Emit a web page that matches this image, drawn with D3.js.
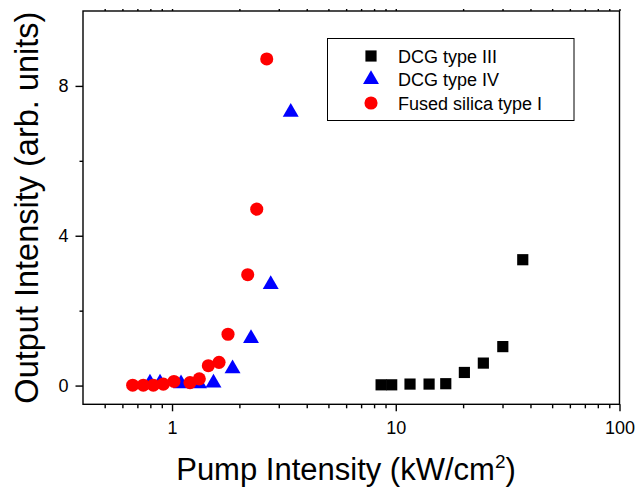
<!DOCTYPE html>
<html>
<head>
<meta charset="utf-8">
<script src="https://cdn.jsdelivr.net/npm/d3@7"></script>
<style>
    body { margin: 0; background: #fff; }
    text { font-family: "Liberation Sans", Arial, sans-serif; fill: #000; }
</style>
</head>
<body>
<script>
// Fused silica type I (red circles)
const silicaX = [0.667, 0.744, 0.825, 0.914, 1.02, 1.203, 1.324, 1.453, 1.622, 1.779, 2.179, 2.391, 2.65];
const silicaY = [0.01, 0.01, 0.01, 0.04, 0.11, 0.08, 0.18, 0.53, 0.62, 1.37, 2.96, 4.71, 8.72];

// DCG type IV (blue triangles)
const dcg4X = [0.797, 0.884, 1.097, 1.32, 1.532, 1.864, 2.254, 2.761, 3.393];
const dcg4Y = [0.07, 0.07, 0.05, 0.05, 0.07, 0.45, 1.26, 2.70, 7.30];

// DCG type III (black squares)
const dcg3X = [8.60, 9.59, 11.58, 14.09, 16.73, 20.26, 24.63, 30.09, 36.95];
const dcg3Y = [0.02, 0.02, 0.04, 0.04, 0.05, 0.35, 0.60, 1.04, 3.36];

const xMajor = [1, 10, 100];
const xMinor = [0.5, 0.6, 0.7, 0.8, 0.9, 2, 3, 4, 5, 6, 7, 8, 9, 20, 30, 40, 50, 60, 70, 80, 90];
const yMajor = [0, 4, 8];
const yMinor = [2, 6];

const legendLabels = ['DCG type III', 'DCG type IV', 'Fused silica type I'];

var width = 639,
    height = 488,
    plotLeft = 83,
    plotRight = 619.5,
    plotTop = 11,
    plotBottom = 404.3;

var xScale = d3.scaleLog().domain([0.4, 100]).range([plotLeft, plotRight]);
var yScale = d3.scaleLinear().domain([-0.5, 10]).range([plotBottom, plotTop]);

var svg = d3.select('body').append('svg')
    .attr('width', width)
    .attr('height', height);

// frame
svg.append('rect')
    .attr('x', plotLeft).attr('y', plotTop)
    .attr('width', plotRight - plotLeft).attr('height', plotBottom - plotTop)
    .attr('fill', 'none').attr('stroke', '#000').attr('stroke-width', 1.4);

function styleAxis(g) {
    g.select('.domain').remove();
    g.selectAll('line').attr('stroke', '#000').attr('stroke-width', 1.4);
    g.selectAll('text').style('font-size', '18px').attr('fill', '#000');
}

// x axis
svg.append('g')
    .attr('transform', `translate(0, ${plotBottom})`)
    .call(d3.axisBottom(xScale).tickValues(xMinor).tickSize(4).tickFormat(''))
    .call(styleAxis);
svg.append('g')
    .attr('transform', `translate(0, ${plotBottom})`)
    .call(d3.axisBottom(xScale).tickValues(xMajor).tickSize(7).tickPadding(10).tickFormat(d3.format('d')))
    .call(styleAxis);
svg.append('g')
    .attr('transform', `translate(0, ${plotTop})`)
    .call(d3.axisTop(xScale).tickValues(xMinor.concat(xMajor)).tickSize(2).tickFormat(''))
    .call(styleAxis);

// y axis
svg.append('g')
    .attr('transform', `translate(${plotLeft}, 0)`)
    .call(d3.axisLeft(yScale).tickValues(yMinor).tickSize(3.5).tickFormat(''))
    .call(styleAxis);
svg.append('g')
    .attr('transform', `translate(${plotLeft}, 0)`)
    .call(d3.axisLeft(yScale).tickValues(yMajor).tickSize(7.5).tickPadding(7).tickFormat(d3.format('d')))
    .call(styleAxis);

// axis titles
var xTitle = svg.append('text')
    .attr('x', 346).attr('y', 480)
    .attr('text-anchor', 'middle')
    .style('font-size', '31px');
xTitle.append('tspan').text('Pump Intensity (kW/cm');
xTitle.append('tspan').attr('dy', -12).style('font-size', '19px').text('2');
xTitle.append('tspan').attr('dy', 12).text(')');

svg.append('text')
    .attr('transform', `translate(37.5, ${(plotTop + plotBottom) / 2}) rotate(-90)`)
    .attr('text-anchor', 'middle')
    .style('font-size', '32.5px')
    .text('Output Intensity (arb. units)');

// markers
var square = d3.symbol().type(d3.symbolSquare).size(125);
var triangle = d3.symbol().type(d3.symbolTriangle).size(110);
var circle = d3.symbol().type(d3.symbolCircle).size(135);

svg.selectAll('.dcg3')
    .data(dcg3X.map((x, i) => [x, dcg3Y[i]]))
    .enter().append('path')
    .attr('class', 'dcg3')
    .attr('d', square)
    .attr('fill', '#000')
    .attr('transform', d => `translate(${xScale(d[0])}, ${yScale(d[1])})`);

svg.selectAll('.dcg4')
    .data(dcg4X.map((x, i) => [x, dcg4Y[i]]))
    .enter().append('path')
    .attr('class', 'dcg4')
    .attr('d', triangle)
    .attr('fill', '#0000ff')
    .attr('transform', d => `translate(${xScale(d[0])}, ${yScale(d[1])})`);

svg.selectAll('.silica')
    .data(silicaX.map((x, i) => [x, silicaY[i]]))
    .enter().append('path')
    .attr('class', 'silica')
    .attr('d', circle)
    .attr('fill', '#ff0000')
    .attr('transform', d => `translate(${xScale(d[0])}, ${yScale(d[1])})`);

// legend
var legend = svg.append('g');
legend.append('rect')
    .attr('x', 327.5).attr('y', 38.5)
    .attr('width', 246.5).attr('height', 82)
    .attr('fill', '#fff').attr('stroke', '#000').attr('stroke-width', 1);

var legendSymbols = [square, triangle, circle];
var legendColors = ['#000', '#0000ff', '#ff0000'];

legendLabels.forEach((label, i) => {
    var cy = 56 + i * 23.5;
    legend.append('path')
        .attr('d', legendSymbols[i])
        .attr('fill', legendColors[i])
        .attr('transform', `translate(371, ${cy})`);
    legend.append('text')
        .attr('x', 398).attr('y', cy + 6.5)
        .style('font-size', '18px')
        .text(label);
});
</script>
</body>
</html>
